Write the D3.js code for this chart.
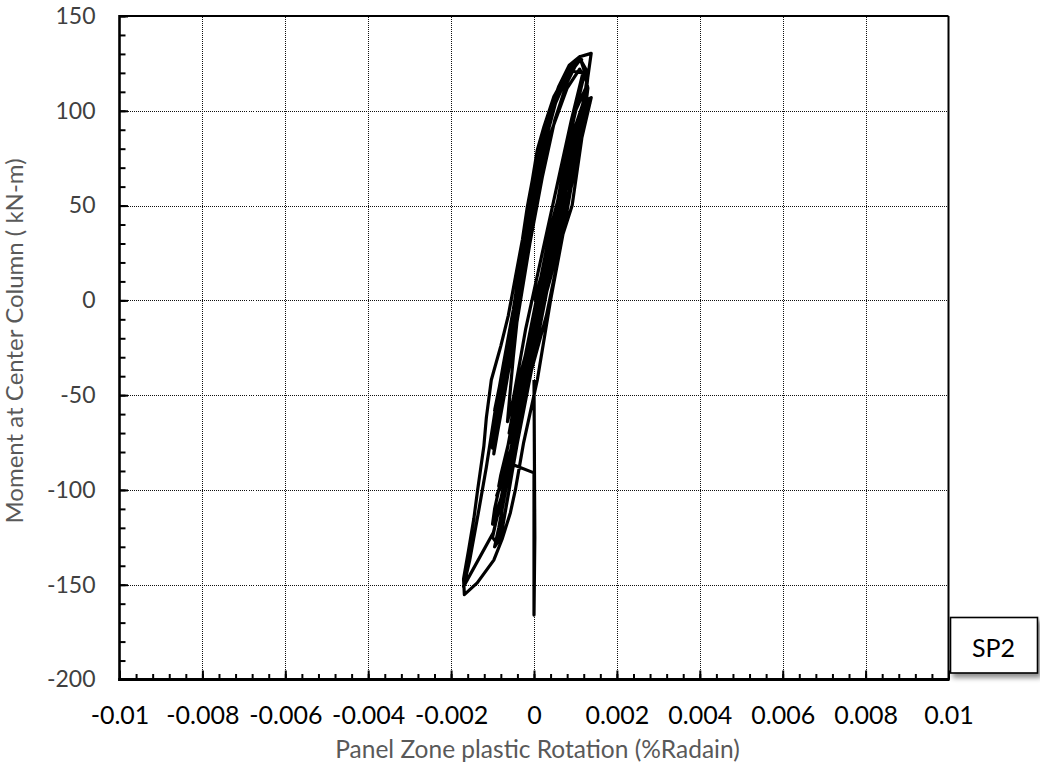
<!DOCTYPE html>
<html>
<head>
<meta charset="utf-8">
<script src="https://cdn.jsdelivr.net/npm/d3@7"></script>
<style>
  body { margin: 0; background: #fff; }
  svg { display: block; font-family: Lato, "Open Sans", sans-serif; }
  .grid line { stroke: #111; stroke-width: 1; stroke-dasharray: 1,1; shape-rendering: crispEdges; }
  .ticks line { stroke: #000; stroke-width: 2; }
  .curve { fill: none; stroke: #000; stroke-width: 3.2; stroke-linejoin: round; }
</style>
</head>
<body>
<svg id="chart" width="1040" height="769"></svg>
<script>
// axis ticks
const xTicks = [-0.01, -0.008, -0.006, -0.004, -0.002, 0, 0.002, 0.004, 0.006, 0.008, 0.01];
const xTickLabels = ["-0.01", "-0.008", "-0.006", "-0.004", "-0.002", "0", "0.002", "0.004", "0.006", "0.008", "0.01"];
const yTicks = [-200, -150, -100, -50, 0, 50, 100, 150];
const yTickLabels = ["-200", "-150", "-100", "-50", "0", "50", "100", "150"];

// hysteresis record: [panel zone rotation (rad), moment (kN-m)]
const cycle1 = [[0, 0], [0.0003, 22], [0.0006, 48], [0.00075, 60], [0.0005, 45], [0.0002, 12], [-0.0001, -20],
  [-0.0004, -45], [-0.00048, -52], [-0.0002, -30], [0.0001, -2]];
const cycle2 = [[0.0004, 25], [0.0007, 52], [0.00095, 75], [0.0008, 72], [0.0004, 38], [0.0001, 5], [-0.0002, -28],
  [-0.0005, -58], [-0.0006, -70], [-0.0003, -50], [0.0001, -12], [0.0004, 12]];
const cycle2b = [[0.0006, 30], [0.00085, 55], [0.0011, 80], [0.00095, 78], [0.0006, 45], [0.00025, 8], [-0.0001, -30],
  [-0.0004, -62], [-0.00055, -75], [-0.0002, -45], [0.0002, -5], [0.0005, 25]];
const cycle3 = [[0.0007, 42], [0.001, 75], [0.0012, 96], [0.00125, 100], [0.00095, 88], [0.0006, 55], [0.0002, 12],
  [-0.0002, -30], [-0.0005, -65], [-0.0008, -92], [-0.00085, -98], [-0.0005, -75], [-0.0001, -35], [0.0003, 5]];
const cycle3b = [[0.0008, 52], [0.0011, 82], [0.0013, 100], [0.0011, 97], [0.0008, 70], [0.0004, 25], [0, -20],
  [-0.0003, -55], [-0.0006, -85], [-0.0009, -103], [-0.0006, -88], [-0.0002, -45], [0.0002, -2], [0.0006, 40]];
const cycle4 = [[0.0006, 30], [0.0009, 62], [0.0012, 90], [0.00138, 107], [0.0013, 106], [0.001, 88], [0.0007, 62],
  [0.0004, 30], [0, -8], [-0.0004, -50], [-0.0007, -85], [-0.00095, -110], [-0.001, -118], [-0.0007, -98],
  [-0.0003, -55], [0.0001, -15], [0.0005, 25], [0.0009, 60]];
const cycle4b = [[0.00095, 75], [0.00125, 100], [0.00135, 104], [0.0011, 92], [0.00075, 60], [0.00035, 18],
  [-0.00005, -25], [-0.00035, -62], [-0.00065, -95], [-0.0009, -115], [-0.00062, -95], [-0.00025, -52],
  [0.0003, -8], [0.0007, 35]];
const cycle5 = [[0.0012, 98], [0.0013, 118], [0.00138, 130.3], [0.0011, 128.5], [0.0008, 120], [0.00048, 107.5],
  [0.00024, 91.6], [0.00008, 79.4], [-0.00004, 63.5], [-0.00016, 49.5], [-0.00028, 32], [-0.00045, 12],
  [-0.00062, -8], [-0.0008, -24], [-0.00103, -42], [-0.00115, -62], [-0.00121, -77], [-0.00136, -100],
  [-0.00145, -115], [-0.00158, -132], [-0.0017, -147], [-0.00168, -155.2], [-0.00137, -149], [-0.00097, -137],
  [-0.00077, -126], [-0.00057, -112], [-0.00045, -100], [-0.00025, -75], [0.00008, -42], [0.0004, 0],
  [0.0007, 35], [0.00092, 50], [0.00115, 85], [0.0013, 112], [0.0012, 122]];
const cycle6 = [[0.0011, 128.5], [0.00085, 124], [0.0006, 113], [0.0004, 101], [0.0002, 82], [0, 56], [-0.0002, 30],
  [-0.00038, 5], [-0.00056, -20], [-0.00075, -42], [-0.0009, -65], [-0.00097, -81], [-0.00082, -62],
  [-0.00062, -35], [-0.0004, -5], [-0.00015, 35], [0.0001, 68], [0.0004, 98], [0.0007, 116], [0.00095, 125],
  [0.00115, 127]];
const cycle7 = [[0.0009, 124], [0.00055, 110], [0.0003, 91], [0.00008, 66], [-0.0001, 41], [-0.0003, 12],
  [-0.0005, -30], [-0.00064, -64], [-0.0005, -52], [-0.0002, -15], [0.0002, 25], [0.0006, 65], [0.0009, 95],
  [0.00118, 120]];
const cycle8 = [[0.0009, 121], [0.0005, 106], [0.0002, 85], [-0.00005, 58], [-0.00025, 30], [-0.0005, -5],
  [-0.00075, -35], [-0.00095, -60], [-0.00115, -88], [-0.00135, -113], [-0.00155, -137], [-0.0017, -151],
  [-0.00098, -122.5], [-0.0008, -106], [-0.0005, -72], [-0.0001, -28], [0.0003, 12], [0.0007, 55], [0.001, 85],
  [0.00118, 102]];
const cycle9 = [[0.0013, 120], [0.00112, 127], [0.0008, 118], [0.00052, 104], [0.0003, 86], [0.0001, 62],
  [-0.0001, 38], [-0.00032, 8], [-0.00052, -18], [-0.0007, -38], [-0.00088, -60], [-0.001, -78], [-0.0009, -72],
  [-0.0007, -48], [-0.0004, -10], [-0.0001, 30], [0.0002, 65], [0.0005, 95], [0.0008, 115], [0.00105, 126]];
const cycle10 = [[0.0008, 121], [0.00045, 104], [0.00022, 84], [0.00002, 60], [-0.00018, 36], [-0.0004, 6],
  [-0.0006, -20], [-0.00082, -44], [-0.00095, -58], [-0.00078, -45], [-0.0005, -12], [-0.0002, 25],
  [0.0001, 60], [0.0004, 88], [0.0008, 112], [0.0011, 122]];
const cycle11 = [[0.0012, 118], [0.0009, 90], [0.0006, 55], [0.0002, 10], [-0.0002, -35], [-0.0005, -72],
  [-0.0008, -105], [-0.001, -125], [-0.0009, -128], [-0.0007, -112], [-0.0004, -75], [0, -30], [0.0004, 15],
  [0.0008, 62], [0.0011, 95], [0.00125, 112]];
const cycle12 = [[0.001, 100], [0.00065, 62], [0.0003, 20], [-0.0001, -28], [-0.0004, -68], [-0.0007, -102],
  [-0.00085, -120], [-0.00095, -130], [-0.0008, -125], [-0.0006, -100], [-0.00025, -55], [0.00015, -5],
  [0.0005, 40], [0.0009, 80], [0.0012, 105]];
const finalPart = [[0.001, 92], [0.0007, 65], [0.0003, 25], [-0.0001, -20], [-0.0004, -65], [-0.0005, -86.7],
  [0, -91], [0, -166], [0.00002, -125], [0, -42]];

const record = [].concat(cycle1, cycle2, cycle2b, cycle3, cycle3b, cycle4, cycle4b, cycle5, cycle6, cycle7,
  cycle8, cycle9, cycle10, cycle11, cycle12, finalPart);

const width = 1040;
const height = 769;
const margin = { top: 16, right: 91.5, bottom: 89.5, left: 119.5 };
const x0 = margin.left, x1 = width - margin.right;
const y0 = height - margin.bottom, y1 = margin.top;

const x = d3.scaleLinear().domain([-0.01, 0.01]).range([x0, x1]);
const y = d3.scaleLinear().domain([-200, 150]).range([y0, y1]);

const svg = d3.select("#chart");
svg.append("rect").attr("width", width).attr("height", height).attr("fill", "#fff");

// d3 axes put their own font on the group; drop it so the svg font is used
const plain = g => g.attr("font-family", null).attr("font-size", null).call(g => g.select(".domain").remove());

/* grid */
svg.append("g")
  .attr("class", "grid")
  .attr("transform", `translate(0,${y0})`)
  .call(d3.axisBottom(x).tickValues(xTicks.slice(1, -1)).tickSize(-(y0 - y1)).tickFormat(""))
  .call(plain);

svg.append("g")
  .attr("class", "grid")
  .attr("transform", `translate(${x0},0)`)
  .call(d3.axisLeft(y).tickValues(yTicks.slice(1, -1)).tickSize(-(x1 - x0)).tickFormat(""))
  .call(plain);

/* minor ticks */
const xMinor = d3.range(-0.01, 0.0100001, 0.0004);
const yMinor = d3.range(-200, 151, 10);

svg.append("g")
  .attr("class", "ticks")
  .attr("transform", `translate(0,${y0})`)
  .call(d3.axisBottom(x).tickValues(xMinor).tickSize(-5.5).tickFormat(""))
  .call(plain);

svg.append("g")
  .attr("class", "ticks")
  .attr("transform", `translate(${x0},0)`)
  .call(d3.axisLeft(y).tickValues(yMinor).tickSize(-6).tickFormat(""))
  .call(plain);

/* major ticks + labels */
const xAxis = svg.append("g")
  .attr("class", "ticks")
  .attr("transform", `translate(0,${y0})`)
  .call(d3.axisBottom(x).tickValues(xTicks).tickSize(-9).tickFormat((d, i) => xTickLabels[i]))
  .call(plain);
xAxis.selectAll("text")
  .attr("y", 44.5)
  .attr("dy", null)
  .attr("fill", "#000")
  .style("font-size", "25px");

const yAxis = svg.append("g")
  .attr("class", "ticks")
  .attr("transform", `translate(${x0},0)`)
  .call(d3.axisLeft(y).tickValues(yTicks).tickSize(-8.5).tickPadding(24).tickFormat((d, i) => yTickLabels[i]))
  .call(plain);
yAxis.selectAll("text")
  .attr("fill", "#404040")
  .style("font-size", "23px");

/* data */
const line = d3.line()
  .x(d => x(d[0]))
  .y(d => y(d[1]));

svg.append("path").datum(record).attr("class", "curve").attr("d", line);

/* frame */
const frame = svg.append("g").attr("stroke", "#000");
frame.append("line").attr("x1", x0).attr("x2", x1).attr("y1", y1).attr("y2", y1).attr("stroke-width", 2);
frame.append("line").attr("x1", x1).attr("x2", x1).attr("y1", y1).attr("y2", y0).attr("stroke-width", 2);
frame.append("line").attr("x1", x0).attr("x2", x0).attr("y1", y1 - 1).attr("y2", y0 + 1.5).attr("stroke-width", 2.6);
frame.append("line").attr("x1", x0 - 1.3).attr("x2", x1 + 1).attr("y1", y0).attr("y2", y0).attr("stroke-width", 3);

/* axis titles */
svg.append("text")
  .attr("transform", `translate(23,341) rotate(-90)`)
  .attr("text-anchor", "middle")
  .attr("fill", "#595959")
  .style("font-size", "24px")
  .text("Moment at Center Column ( kN-m)");

svg.append("text")
  .attr("x", 537.5)
  .attr("y", 758)
  .attr("text-anchor", "middle")
  .attr("fill", "#595959")
  .style("font-size", "24.5px")
  .text("Panel Zone plastic Rotation (%Radain)");

/* SP2 label box */
const defs = svg.append("defs");
defs.append("filter")
  .attr("id", "shadow")
  .attr("x", "-20%").attr("y", "-20%").attr("width", "150%").attr("height", "160%")
  .append("feDropShadow")
  .attr("dx", 3).attr("dy", 4).attr("stdDeviation", 2.5)
  .attr("flood-color", "#000").attr("flood-opacity", 0.45);

svg.append("rect")
  .attr("x", 950.5).attr("y", 617.5)
  .attr("width", 87).attr("height", 55.5)
  .attr("fill", "#fff").attr("stroke", "#000").attr("stroke-width", 1.6)
  .attr("filter", "url(#shadow)");

svg.append("text")
  .attr("x", 993.5).attr("y", 657)
  .attr("text-anchor", "middle")
  .attr("fill", "#000")
  .style("font-size", "25px")
  .text("SP2");
</script>
</body>
</html>
